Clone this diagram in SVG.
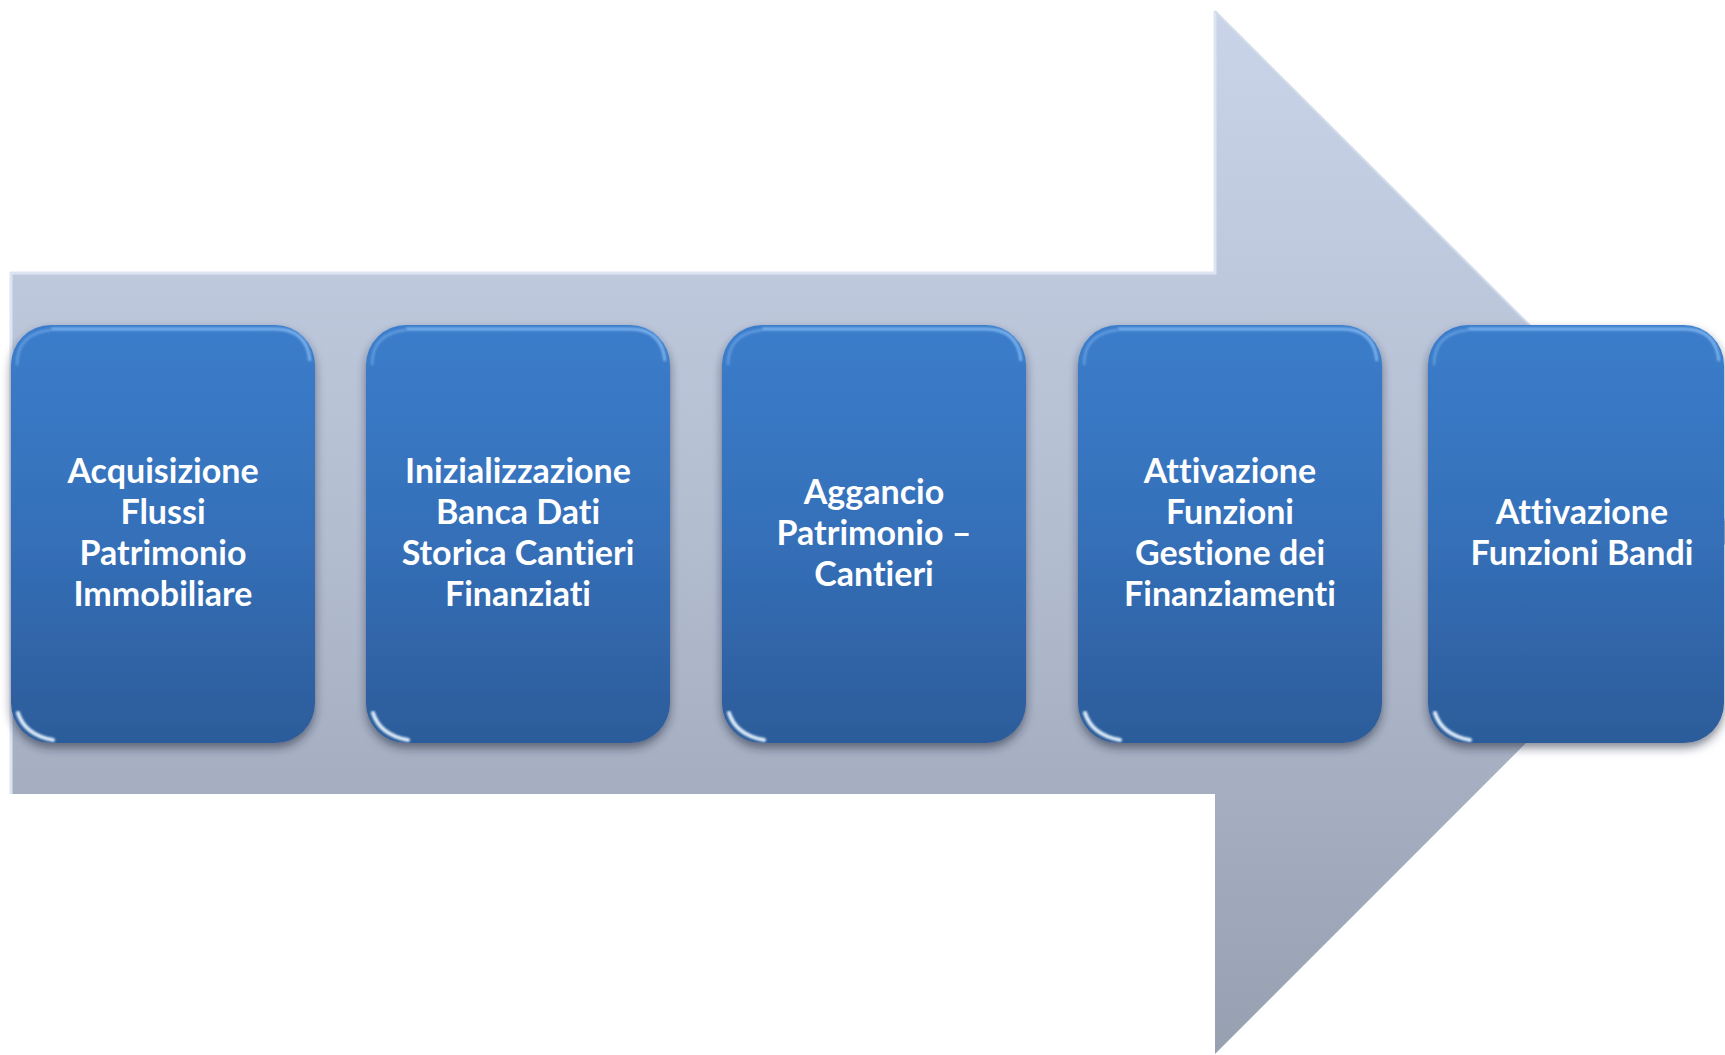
<svg xmlns="http://www.w3.org/2000/svg" xmlns:xlink="http://www.w3.org/1999/xlink" width="1725" height="1055" viewBox="0 0 1725 1055">
<style>
.lbl{font-family:Lato,"Open Sans","Liberation Sans",sans-serif;font-weight:700;font-size:34px;fill:#FFFFFF;text-anchor:middle;font-variant-ligatures:none;font-feature-settings:"liga" 0,"clig" 0}
</style>
<defs>
<linearGradient id="gArrow" gradientUnits="userSpaceOnUse" x1="0" y1="11" x2="0" y2="1054">
<stop offset="0" stop-color="#C9D4E9"/>
<stop offset="0.5" stop-color="#B3BDD0"/>
<stop offset="1" stop-color="#97A0B1"/>
</linearGradient>
<linearGradient id="gBox" x1="0" y1="0" x2="0" y2="1">
<stop offset="0" stop-color="#3B7DCB"/>
<stop offset="0.5" stop-color="#3570B9"/>
<stop offset="1" stop-color="#2C5C9A"/>
</linearGradient>
<filter id="shadow" x="-10%" y="-10%" width="120%" height="125%">
<feDropShadow dx="0" dy="5" stdDeviation="5" flood-color="#1E2A40" flood-opacity="0.55"/>
</filter>
<filter id="soft" x="-10%" y="-10%" width="120%" height="120%">
<feGaussianBlur stdDeviation="1.2"/>
</filter>
<g id="box">
<rect x="0" y="0" width="304" height="418" rx="40" ry="40" fill="url(#gBox)" filter="url(#shadow)"/>
<path d="M40 4 H264 Q296 4 299 36" fill="none" stroke="#8FC3F7" stroke-width="3" opacity="0.75" filter="url(#soft)"/>
<path d="M6 40 Q6 8 40 5" fill="none" stroke="#7DB2EE" stroke-width="2.5" opacity="0.6" filter="url(#soft)"/>
<path d="M300 40 V378" fill="none" stroke="#A9D6FF" stroke-width="2" opacity="0.7" filter="url(#soft)"/>
<path d="M7 388 Q14 410 42 415" fill="none" stroke="#E9F6FF" stroke-width="4" stroke-linecap="round" opacity="0.95" filter="url(#soft)"/>
</g>
<g id="box5">
<rect x="0" y="0" width="296" height="418" rx="40" ry="40" fill="url(#gBox)" filter="url(#shadow)"/>
<path d="M40 4 H256 Q288 4 291 36" fill="none" stroke="#8FC3F7" stroke-width="3" opacity="0.75" filter="url(#soft)"/>
<path d="M6 40 Q6 8 40 5" fill="none" stroke="#7DB2EE" stroke-width="2.5" opacity="0.6" filter="url(#soft)"/>
<path d="M7 388 Q14 410 42 415" fill="none" stroke="#E9F6FF" stroke-width="4" stroke-linecap="round" opacity="0.95" filter="url(#soft)"/>
</g>
</defs>
<rect width="1725" height="1055" fill="#FFFFFF"/>
<g id="arrow">
<polygon points="11,273 1215,273 1215,11 1737,532 1215,1054 1215,794 11,794" fill="url(#gArrow)"/>
<path d="M11 794 V273 H1215 V11" fill="none" stroke="#DDE4F2" stroke-width="3"/>
<path d="M1215 11 L1737 532" fill="none" stroke="#D4DCEC" stroke-width="2"/>
</g>
<g id="connectors"></g>
<g id="node1" transform="translate(11,325)">
<use xlink:href="#box"/>
<text class="lbl" x="152"><tspan x="152" y="158">Acquisizione</tspan><tspan x="152" y="199">Flussi</tspan><tspan x="152" y="240">Patrimonio</tspan><tspan x="152" y="281">Immobiliare</tspan></text>
</g>
<g id="node2" transform="translate(366,325)">
<use xlink:href="#box"/>
<text class="lbl" x="152"><tspan x="152" y="158">Inizializzazione</tspan><tspan x="152" y="199">Banca Dati</tspan><tspan x="152" y="240">Storica Cantieri</tspan><tspan x="152" y="281">Finanziati</tspan></text>
</g>
<g id="node3" transform="translate(722,325)">
<use xlink:href="#box"/>
<text class="lbl" x="152"><tspan x="152" y="178.5">Aggancio</tspan><tspan x="152" y="219.5">Patrimonio –</tspan><tspan x="152" y="260.5">Cantieri</tspan></text>
</g>
<g id="node4" transform="translate(1078,325)">
<use xlink:href="#box"/>
<text class="lbl" x="152"><tspan x="152" y="158">Attivazione</tspan><tspan x="152" y="199">Funzioni</tspan><tspan x="152" y="240">Gestione dei</tspan><tspan x="152" y="281">Finanziamenti</tspan></text>
</g>
<g id="node5" transform="translate(1428,325)">
<use xlink:href="#box5"/>
<text class="lbl" x="154"><tspan x="154" y="199">Attivazione</tspan><tspan x="154" y="240">Funzioni Bandi</tspan></text>
</g>
</svg>
